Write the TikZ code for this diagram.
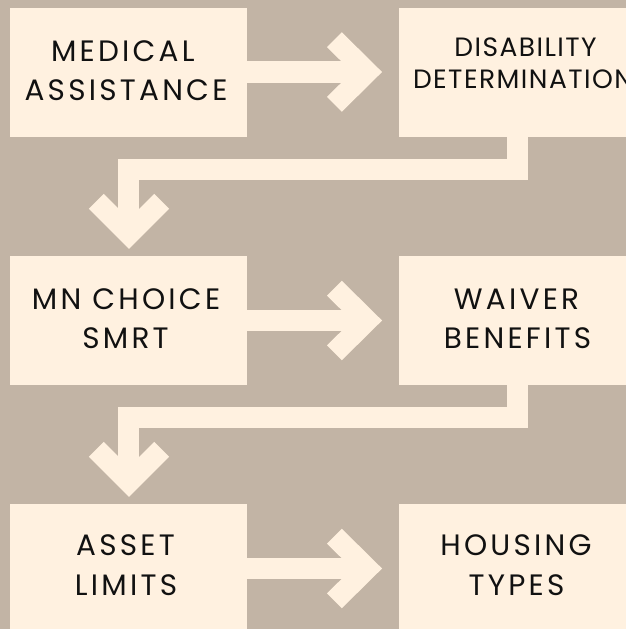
\documentclass[tikz,border=0pt]{standalone}
\usepackage{fontspec}
\setmainfont{Poppins}
\newfontfamily\widefont[LetterSpace=11]{Poppins}
\newfontfamily\semiwidefont[LetterSpace=5.5]{Poppins}
\usetikzlibrary{calc}
\definecolor{bgc}{RGB}{194,180,165}
\definecolor{cream}{RGB}{255,241,224}
\definecolor{ink}{RGB}{17,17,17}
\tikzset{
  box/.style={fill=cream, draw=none, rectangle, inner sep=0pt, minimum width=237pt, minimum height=129pt},
  lbl/.style={anchor=base, inner sep=0pt, text=ink, font=\widefont\fontsize{29.5}{32}\selectfont},
  slbl/.style={anchor=base, inner sep=0pt, text=ink, font=\semiwidefont\fontsize{26.5}{28}\selectfont},
  shaft/.style={draw=cream, line width=21.6pt, line cap=butt},
  chev/.style={draw=cream, line width=21pt, line cap=butt, line join=miter, miter limit=10},
  conn/.style={draw=cream, line width=21.3pt, line cap=butt, line join=miter, miter limit=10}
}
\begin{document}
\begin{tikzpicture}[x=1pt, y={(0pt,-1pt)}]
\useasboundingbox (0,0) rectangle (626,629);
\clip (0,0) rectangle (626,629);
\fill[bgc] (0,0) rectangle (626,629);
% boxes
\node[box] (b1) at (128.5,72) {};
\node[box] (b2) at (517.5,72) {};
\node[box] (b3) at (128.5,320.5) {};
\node[box] (b4) at (517.5,320.5) {};
\node[box] (b5) at (128.5,568.5) {};
\node[box] (b6) at (517.5,568.5) {};
% right arrows
\foreach \a in {b1,b3,b5}{
  \draw[shaft] (\a.east) -- ($(\a.east)+(113,0)$);
  \draw[chev] ($(\a.east)+(87.2,-32.3)$) -- ($(\a.east)+(119.9,0)$) -- ($(\a.east)+(87.2,32.3)$);
}
% down connectors
\draw[conn] (b2.south) -- ++(0,32.5) -| ($(b3.north)+(0,-30)$);
\draw[chev] ($(b3.north)+(-32.2,-54.5)$) -- ($(b3.north)+(0.5,-21.8)$) -- ($(b3.north)+(33.2,-54.5)$);
\draw[conn] (b4.south) -- ++(0,32.5) -| ($(b5.north)+(0,-30)$);
\draw[chev] ($(b5.north)+(-32.2,-54.5)$) -- ($(b5.north)+(0.5,-21.8)$) -- ($(b5.north)+(33.2,-54.5)$);
% texts
\node[lbl] (t1a) at (122.8,61.7) {MEDICAL};
\node[lbl] (t1b) at (126,100.7) {ASSISTANCE};
\node[slbl] (t2a) at (525.5,56.7) {DISABILITY};
\node[slbl] (t2b) at (523,88.3) {DETERMINATION};
\node[lbl] (t3a) at (126,309) {MN CHOICE};
\node[lbl] (t3b) at (125.5,348.3) {SMRT};
\node[lbl] (t4a) at (516.5,309) {WAIVER};
\node[lbl] (t4b) at (517.5,348.3) {BENEFITS};
\node[lbl] (t5a) at (125.5,555.7) {ASSET};
\node[lbl] (t5b) at (126,595) {LIMITS};
\node[lbl] (t6a) at (516,555.7) {HOUSING};
\node[lbl] (t6b) at (516.5,595) {TYPES};
\end{tikzpicture}
\end{document}
